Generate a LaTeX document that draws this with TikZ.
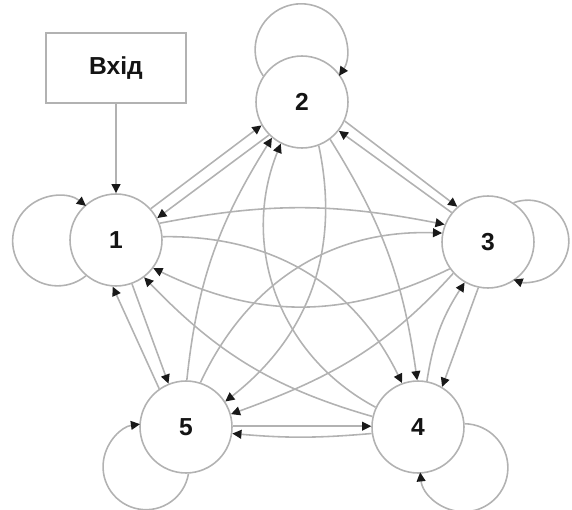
\documentclass[tikz,border=0pt]{standalone}
\usepackage{fontspec}
\setmainfont{Liberation Sans}
\usetikzlibrary{arrows.meta}
\definecolor{edgegray}{RGB}{178,178,178}
\definecolor{tipdark}{RGB}{25,25,25}
\definecolor{labeldark}{RGB}{20,20,20}
\begin{document}
\begin{tikzpicture}[x=0.02cm,y=-0.02cm,
  state/.style={circle, draw=edgegray, line width=0.9pt, fill=white,
    minimum size=1.84cm, inner sep=0pt, text=labeldark,
    font=\fontsize{14}{16}\selectfont\bfseries},
  inbox/.style={rectangle, draw=edgegray, line width=0.9pt, fill=white,
    minimum width=2.8cm, minimum height=1.4cm, inner sep=0pt, text=labeldark,
    font=\fontsize{14}{16}\selectfont\bfseries},
  link/.style={draw=edgegray, line width=0.9pt,
    -{Triangle[length=5.2pt,width=5pt,color=tipdark]}},
]
\useasboundingbox (0,0) rectangle (572,510);

% states
\node[inbox] (input) at (116,68) {Вхід};
\node[state] (n1) at (116,240) {1};
\node[state] (n2) at (302,102) {2};
\node[state] (n3) at (488,242) {3};
\node[state] (n4) at (418,427) {4};
\node[state] (n5) at (186,427) {5};

% entry
\draw[link] (input) -- (n1);

% neighbouring pairs
\draw[link] (n1.42) -- (n2.210);
\draw[link] (n2.225) -- (n1.28);
\draw[link] (n2.336) -- (n3.131);
\draw[link] (n3.141) -- (n2.322);
\draw[link] (n3.258) -- (n4.59);
\draw[link] (n4.79) to[bend left=12] (n3.240);
\draw[link] (n5.1) -- (n4.179);
\draw[link] (n4.188) to[bend left=5] (n5.352);
\draw[link] (n1.290) -- (n5.112);
\draw[link] (n5.125) -- (n1.266);

% diagonals
\draw[link] (n1.21) to[out=11, in=169] (n3.158);
\draw[link] (n3.215) to[out=206, in=334] (n1.323);
\draw[link] (n1.4) to[out=1, in=116] (n4.110);
\draw[link] (n4.167) to[out=164, in=314] (n1.307);
\draw[link] (n2.307) to[out=-58, in=98] (n4.91);
\draw[link] (n4.155) to[out=152, in=248] (n2.243);
\draw[link] (n5.89) to[out=84, in=238] (n2.230);
\draw[link] (n2.291) to[out=-78, in=38] (n5.33);
\draw[link] (n3.222) to[out=228, in=20] (n5.16);
\draw[link] (n5.72) to[out=65, in=178] (n3.169);

% self loops
\draw[link] (n1.230) arc[start angle=-51, end angle=-309, radius=0.9cm];
\draw[link] (n2.146) arc[start angle=214.5, end angle=-34.5, radius=0.92cm];
\draw[link] (n3.57) arc[start angle=110.5, end angle=-110.5, radius=0.82cm];
\draw[link] (n4.4) arc[start angle=89, end angle=-174, radius=0.88cm];
\draw[link] (n5.273) arc[start angle=-9.4, end angle=-262, radius=0.86cm];
\end{tikzpicture}
\end{document}
